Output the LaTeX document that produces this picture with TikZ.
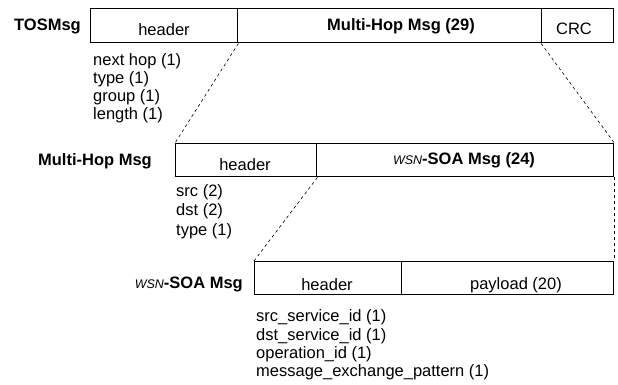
\documentclass[tikz,border=0pt]{standalone}
\usepackage{fontspec}
\setmainfont{Liberation Sans}
\begin{document}
\begin{tikzpicture}[x=1pt,y=-1pt,
  cell/.style={draw, line width=1.4pt, inner sep=0pt, anchor=north west},
  txt/.style={font=\fontsize{16.5}{18}\selectfont, inner sep=0pt},
  ttl/.style={font=\fontsize{16.5}{18}\selectfont\bfseries, inner sep=0pt},
  zoomline/.style={dash pattern=on 3pt off 3pt, line width=0.6pt}]
\useasboundingbox (0,0) rectangle (618,385);
\newcommand{\wsn}{{\fontsize{12.5}{12.5}\selectfont\mdseries\itshape WSN}}

% TOSMsg frame
\node[cell, minimum width=147pt, minimum height=34pt] (th) at (90,8) {};
\node[cell, minimum width=304pt, minimum height=34pt] (tm) at (237,8) {};
\node[cell, minimum width=72pt,  minimum height=34pt] (tc) at (541,8) {};
\node[ttl, anchor=base east] (tl) at (81,31) {TOSMsg};
\node[txt, anchor=base] (thl) at (164,36) {header};
\node[ttl, anchor=base] (tml) at (401,31) {Multi-Hop Msg (29)};
\node[txt, anchor=base] (tcl) at (574,35) {CRC};
\node[txt, anchor=base west] (tf1) at (93,66) {next hop (1)};
\node[txt, anchor=base west] (tf2) at (93,84) {type (1)};
\node[txt, anchor=base west] (tf3) at (93,102) {group (1)};
\node[txt, anchor=base west] (tf4) at (93,120) {length (1)};

% Multi-Hop frame
\node[cell, minimum width=141pt, minimum height=33pt] (mh) at (175,143) {};
\node[cell, minimum width=297pt, minimum height=33pt] (ms) at (316,143) {};
\node[ttl, anchor=base east] (ml) at (152,165) {Multi-Hop Msg};
\node[txt, anchor=base] (mhl) at (245,170) {header};
\node[ttl, anchor=base] (msl) at (464,164) {\wsn-SOA Msg (24)};
\node[txt, anchor=base west] (mf1) at (176,196) {src (2)};
\node[txt, anchor=base west] (mf2) at (176,215) {dst (2)};
\node[txt, anchor=base west] (mf3) at (176,235) {type (1)};

% WSN-SOA frame
\node[cell, minimum width=147pt, minimum height=33pt] (sh) at (254,261) {};
\node[cell, minimum width=212pt, minimum height=33pt] (sp) at (401,261) {};
\node[ttl, anchor=base east] (sl) at (243,288) {\wsn-SOA Msg};
\node[txt, anchor=base] (shl) at (327,290) {header};
\node[txt, anchor=base] (spl) at (516,289) {payload (20)};
\node[txt, anchor=base west] (sf1) at (256,321) {src\_service\_id (1)};
\node[txt, anchor=base west] (sf2) at (256,340) {dst\_service\_id (1)};
\node[txt, anchor=base west] (sf3) at (256,358) {operation\_id (1)};
\node[txt, anchor=base west] (sf4) at (256,376) {message\_exchange\_pattern (1)};

% zoom-in guides between frames
\draw[zoomline] (th.south east) -- (mh.north west);
\draw[zoomline] (tc.south west) -- (ms.north east);
\draw[zoomline] (mh.south east) -- (sh.north west);
\draw[zoomline] (ms.south east) -- (sp.north east);
\end{tikzpicture}
\end{document}
